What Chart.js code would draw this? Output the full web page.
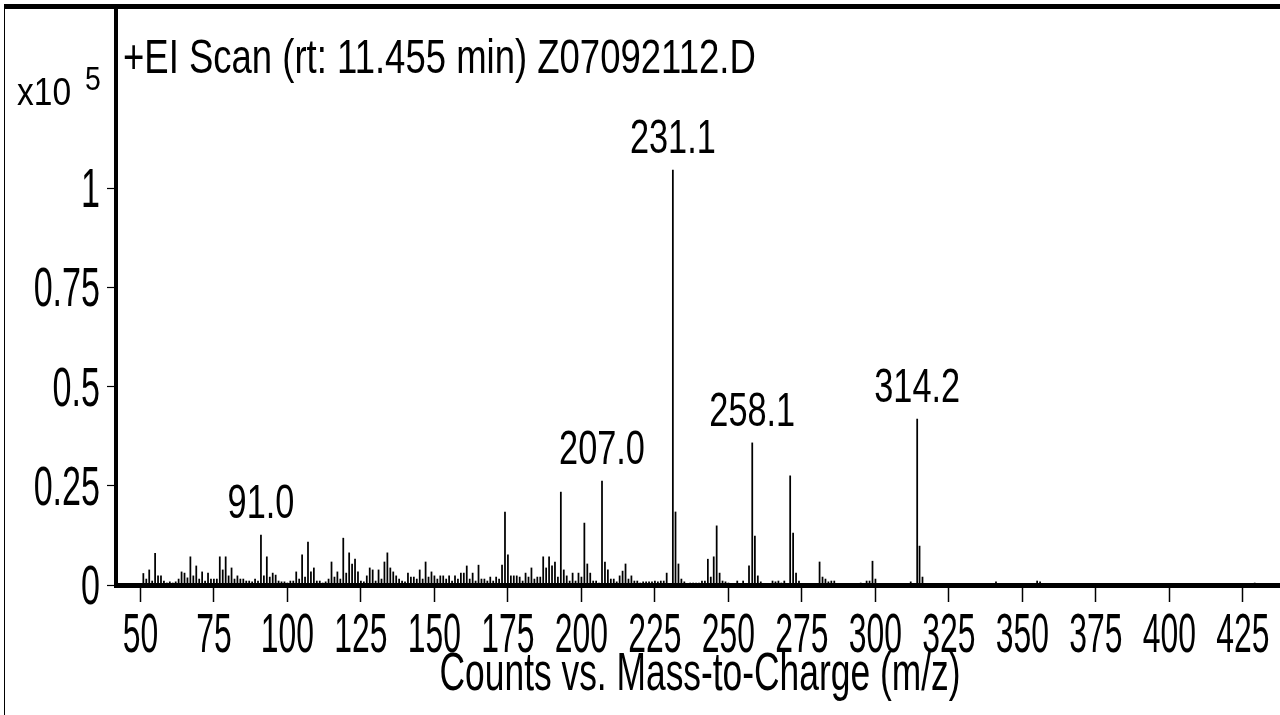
<!DOCTYPE html>
<html lang="en">
<head>
<meta charset="utf-8">
<title>+EI Scan Z07092112.D</title>
<script src="https://cdn.jsdelivr.net/npm/chart.js@4.4.1/dist/chart.umd.min.js"></script>
<style>
	html, body { margin: 0; padding: 0; background: #fff; overflow: hidden; }
	#marco {
		position: absolute; left: 4px; top: 4px; width: 1276px; height: 711px;
		border-top: 5px solid #000; border-left: 1px solid #000; box-sizing: border-box;
	}
	#espectro { position: absolute; left: 0; top: 0; }
</style>
</head>
<body>
<div id="marco"></div>
<canvas id="espectro" width="1280" height="715"></canvas>
<script>
// **DATOS**
// m/z de cada pico (los picos rotulados llevan su valor con decimal)
const mzValues = [
	51, 52, 53, 54, 55, 56, 57, 58, 59, 60, 61, 62, 63, 64, 65, 66, 67, 68, 69, 70,
	71, 72, 73, 74, 75, 76, 77, 78, 79, 80, 81, 82, 83, 84, 85, 86, 87, 88, 89, 90,
	91.0, 92, 93, 94, 95, 96, 97, 98, 99, 100, 101, 102, 103, 104, 105, 106, 107, 108, 109, 110,
	111, 112, 113, 114, 115, 116, 117, 118, 119, 120, 121, 122, 123, 124, 125, 126, 127, 128, 129, 130,
	131, 132, 133, 134, 135, 136, 137, 138, 139, 140, 141, 142, 143, 144, 145, 146, 147, 148, 149, 150,
	151, 152, 153, 154, 155, 156, 157, 158, 159, 160, 161, 162, 163, 164, 165, 166, 167, 168, 169, 170,
	171, 172, 173, 174, 175, 176, 177, 178, 179, 180, 181, 182, 183, 184, 185, 186, 187, 188, 189, 190,
	191, 192, 193, 194, 195, 196, 197, 198, 199, 200, 201, 202, 203, 204, 205, 206, 207.0, 208, 209, 210,
	211, 212, 213, 214, 215, 216, 217, 218, 219, 220, 221, 222, 223, 224, 225, 226, 227, 228, 229, 230,
	231.1, 232, 233, 234, 235, 236, 237, 238, 239, 240, 241, 242, 243, 244, 245, 246, 247, 248, 249, 250,
	253, 255, 257, 258.1, 259, 260, 261, 265, 266, 267, 268, 269, 271, 272, 273, 274,
	281, 282, 283, 284, 285, 286, 295, 297, 298, 299, 300, 312, 314.2, 315, 316, 341, 355, 356, 429
];

// abundancia (x10^5 cuentas), en el mismo orden que mzValues
const countValues = [
	0.029, 0.015, 0.038, 0.010, 0.080, 0.023, 0.023, 0.010, 0.005, 0.008, 0.005, 0.008, 0.015, 0.033, 0.030, 0.018, 0.071, 0.023, 0.048, 0.015,
	0.033, 0.010, 0.030, 0.015, 0.015, 0.015, 0.071, 0.038, 0.071, 0.023, 0.043, 0.015, 0.023, 0.015, 0.015, 0.010, 0.010, 0.008, 0.015, 0.010,
	0.126, 0.023, 0.071, 0.020, 0.030, 0.025, 0.010, 0.008, 0.008, 0.005, 0.010, 0.010, 0.033, 0.015, 0.076, 0.020, 0.108, 0.033, 0.043, 0.010,
	0.010, 0.005, 0.008, 0.015, 0.058, 0.020, 0.033, 0.015, 0.118, 0.030, 0.081, 0.053, 0.065, 0.033, 0.010, 0.008, 0.023, 0.043, 0.038, 0.010,
	0.038, 0.015, 0.058, 0.081, 0.043, 0.033, 0.023, 0.015, 0.010, 0.008, 0.030, 0.020, 0.020, 0.015, 0.038, 0.015, 0.058, 0.020, 0.033, 0.023,
	0.015, 0.023, 0.023, 0.015, 0.023, 0.010, 0.023, 0.015, 0.030, 0.030, 0.048, 0.015, 0.030, 0.010, 0.050, 0.015, 0.015, 0.010, 0.020, 0.010,
	0.020, 0.015, 0.050, 0.184, 0.076, 0.023, 0.023, 0.023, 0.020, 0.010, 0.030, 0.020, 0.043, 0.015, 0.020, 0.020, 0.071, 0.043, 0.071, 0.048,
	0.058, 0.020, 0.234, 0.038, 0.023, 0.010, 0.030, 0.010, 0.030, 0.020, 0.156, 0.053, 0.030, 0.010, 0.010, 0.005, 0.262, 0.058, 0.038, 0.015,
	0.015, 0.008, 0.023, 0.035, 0.053, 0.015, 0.023, 0.010, 0.010, 0.005, 0.008, 0.008, 0.008, 0.008, 0.010, 0.008, 0.010, 0.010, 0.030, 0.003,
	1.045, 0.184, 0.053, 0.015, 0.008, 0.003, 0.005, 0.005, 0.005, 0.005, 0.010, 0.010, 0.065, 0.020, 0.071, 0.149, 0.030, 0.010, 0.008, 0.005,
	0.010, 0.010, 0.048, 0.358, 0.123, 0.023, 0.008, 0.010, 0.008, 0.010, 0.005, 0.010, 0.275, 0.131, 0.030, 0.010,
	0.058, 0.020, 0.015, 0.008, 0.010, 0.010, 0.005, 0.010, 0.010, 0.060, 0.015, 0.008, 0.418, 0.098, 0.020, 0.008, 0.010, 0.008, 0.005
];

// picos que llevan rótulo
const peakLabels = ['91.0', '207.0', '231.1', '258.1', '314.2'];

// marcas de los ejes
const xTickValues = [50, 75, 100, 125, 150, 175, 200, 225, 250, 275, 300, 325, 350, 375, 400, 425];
const yTickValues = [0, 0.25, 0.5, 0.75, 1];

const scanTitle = '+EI Scan (rt: 11.455 min) Z07092112.D';
const axisTitle = 'Counts vs. Mass-to-Charge (m/z)';

// **TEXTO**
const FUENTE = '"Liberation Sans", Arial, sans-serif';

/**
 * Escribe un texto estrechado horizontalmente (tipografía condensada del software del equipo).
 * @param {CanvasRenderingContext2D} ctx - Contexto del canvas.
 * @param {string} texto - Texto a escribir.
 * @param {number} x - Posición horizontal.
 * @param {number} y - Línea base.
 * @param {number} tam - Tamaño de fuente en px.
 * @param {number} escala - Factor de estrechamiento horizontal.
 * @param {string} align - Alineación.
 */
function textoEstrecho(ctx, texto, x, y, tam, escala, align) {
	ctx.save();
	ctx.font = `${tam}px ${FUENTE}`;
	ctx.fillStyle = '#000';
	ctx.textAlign = align || 'left';
	ctx.textBaseline = 'alphabetic';
	ctx.translate(x, y);
	ctx.scale(escala, 1);
	ctx.fillText(texto, 0, 0);
	ctx.restore();
}

// Plugin que dibuja rótulos de ejes, título y valores de los picos
const rotulos = {
	id: 'rotulos',
	afterDraw(chart) {
		const { ctx, chartArea, scales: { x, y } } = chart;

		xTickValues.forEach(v => textoEstrecho(ctx, String(v), x.getPixelForValue(v), 652, 55, 0.58, 'center'));
		yTickValues.forEach(v => textoEstrecho(ctx, String(v), 100, y.getPixelForValue(v) + 19, 55, 0.62, 'right'));

		textoEstrecho(ctx, axisTitle, (chartArea.left + chartArea.right) / 2 + 2, 690, 54, 0.655, 'center');
		textoEstrecho(ctx, scanTitle, chartArea.left + 7, 73, 49, 0.745, 'left');

		textoEstrecho(ctx, 'x10', 17, 105, 39, 0.86, 'left');
		textoEstrecho(ctx, '5', 85, 90, 33, 0.86, 'left');

		const meta = chart.getDatasetMeta(0);
		peakLabels.forEach(t => {
			const barra = meta.data[mzValues.indexOf(parseFloat(t))];
			textoEstrecho(ctx, t, barra.x, barra.y - 17, 49, 0.70, 'center');
		});
	}
};

// **GRÁFICO**
/**
 * Crea el espectro de masas como gráfico de barras sobre eje lineal.
 */
function createSpectrum() {
	new Chart(document.getElementById('espectro'), {
		type: 'bar',
		data: {
			datasets: [{
				data: mzValues.map((m, i) => ({ x: m, y: countValues[i] })),
				backgroundColor: '#000',
				borderWidth: 0,
				barThickness: 1.1,
			}],
		},
		options: {
			responsive: false,
			animation: false,
			layout: { padding: { top: 9, left: 0, right: 0, bottom: 0 } },
			plugins: { legend: { display: false }, tooltip: { enabled: false } },
			scales: {
				x: {
					type: 'linear',
					min: 41.7,
					max: 437.6,
					offset: false,
					afterFit(s) { s.height = 130; },
					afterBuildTicks(s) { s.ticks = xTickValues.map(value => ({ value })); },
					ticks: { display: false },
					grid: { display: true, offset: false, drawOnChartArea: false, tickLength: 17, tickWidth: 1.5, tickColor: '#000' },
					border: { display: true, width: 5, color: '#000' },
				},
				y: {
					min: 0,
					max: 1.451,
					afterFit(s) { s.width = 116; },
					afterBuildTicks(s) { s.ticks = yTickValues.map(value => ({ value })); },
					ticks: { display: false },
					grid: { display: true, drawOnChartArea: false, tickLength: 9, tickWidth: 1.2, tickColor: '#000' },
					border: { display: true, width: 4, color: '#000' },
				},
			},
		},
		plugins: [rotulos],
	});
}

document.addEventListener('DOMContentLoaded', createSpectrum);
</script>
</body>
</html>
